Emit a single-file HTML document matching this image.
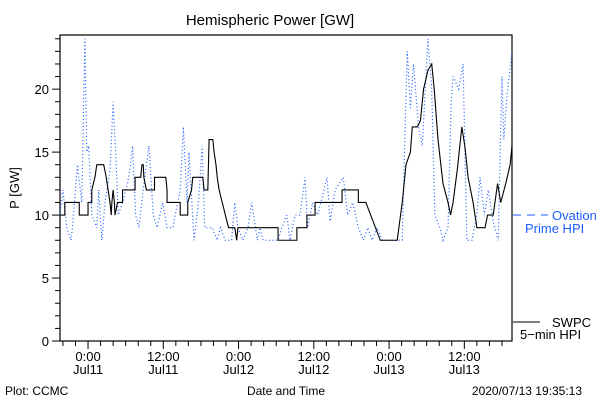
<!DOCTYPE html>
<html><head><meta charset="utf-8"><style>
body{margin:0;background:#fff;}
svg{display:block;font-family:"Liberation Sans",sans-serif;}
</style></head><body>
<svg id="chart" width="600" height="400">
<text x="270" y="25" font-size="15" text-anchor="middle">Hemispheric Power [GW]</text>
<text transform="translate(19,188) rotate(-90)" font-size="13" text-anchor="middle">P [GW]</text>
<text x="5" y="395" font-size="12">Plot: CCMC</text>
<text x="286" y="395" font-size="12" text-anchor="middle">Date and Time</text>
<text x="582" y="395" font-size="12" text-anchor="end">2020/07/13 19:35:13</text>
<g id="axes"></g>
<g id="series"></g>
<line x1="513" y1="215" x2="548" y2="215" stroke="#1f5fff" stroke-width="1" stroke-dasharray="8,6"/>
<text x="552" y="220" font-size="13" fill="#1f5fff">Ovation</text>
<text x="525" y="233" font-size="13" fill="#1f5fff">Prime HPI</text>
<line x1="513" y1="322" x2="540" y2="322" stroke="#000" stroke-width="1"/>
<text x="552" y="327" font-size="13">SWPC</text>
<text x="520" y="339" font-size="13">5−min HPI</text>
</svg>
<script>
const blackT=[-4.5,-3.7,-3.7,-1.4,-1.4,0,0,0.6,0.6,1.1,1.4,2.5,2.9,3.2,3.5,3.7,3.8,4.0,4.2,4.3,4.7,5.5,5.5,7.5,7.5,8.4,8.6,8.8,8.9,9.3,10.6,10.6,12.4,12.6,12.6,14.7,14.7,15.9,15.9,16.5,16.7,18.3,18.5,19.1,19.3,19.9,20.1,20.4,20.6,20.9,21.4,21.9,22.4,23.4,23.7,23.9,30.3,30.3,33.3,33.3,34.9,34.9,36.2,36.2,40.5,40.5,43.1,43.1,44.3,46.6,49.3,50.1,50.7,51.4,51.7,52.5,53.0,53.5,54.2,54.8,55.2,55.8,56.6,57.4,57.8,58.2,58.9,59.6,60.1,60.6,61.4,62.0,63.3,63.7,64.6,65.3,65.8,66.6,67.3,67.6];
const blackV=[10,10,11,11,10,10,11,11,12,13,14,14,13,12,11,10,11,12,11,10,11,11,12,12,13,13,14,14,13,12,12,13,13,12,11,11,10,10,11,12,13,13,12,12,16,16,15,14,13,12,11,10,9,9,8,9,9,8,8,9,9,10,10,11,11,12,12,11,11,8,8,11,14,15,17,17,17.5,20,21.5,22,20,16,12.5,11,10,11,13.7,17,15.4,13,11,9,9,10,10,12.5,11,12.5,14,15.5];
const blueT=[-4.5,-4.0,-3.4,-2.7,-2.5,-2.0,-1.7,-1.0,-0.5,-0.2,0.1,0.6,1.4,1.7,2.2,2.7,3.5,4.0,4.5,4.8,5.5,6.3,6.8,7.1,7.6,8.1,8.8,9.7,10.4,11.0,11.9,12.6,13.5,14.7,15.2,15.8,16.1,16.9,17.6,18.2,18.6,19.8,20.6,21.1,21.9,22.9,23.4,23.9,24.7,25.5,26.1,27.0,27.4,27.9,30.3,30.9,31.7,32.2,33.0,33.8,34.6,35,35.8,36.6,38.1,38.6,39.4,40.7,41.4,42.2,43.1,43.9,44.6,45.3,46.1,46.9,50.1,50.4,50.9,51.4,51.9,52.7,53.3,54.2,54.8,55.3,56.1,56.6,57.4,57.9,58.2,59.1,59.8,60.4,61.2,62.0,62.5,63.2,63.8,64.6,65.4,66.0,66.3,66.8,67.6];
const blueV=[10,12,9,8,9,12,14,11,24,15,15.5,10,9,12,8,11,13.5,19,14,10,11,12.5,14,15.5,10,9,12,15.5,10,9,11,9,9,12,17,11,15,8,11,15.5,9,9,8,9,8,8,11,9,8,9,11,8,9,8,8,9,10,8,10,10,13,9,11,10,13,9.5,12,13,10,11,9,8,9,8,9,8,8,14,23,18.5,22,17,15.5,24,20,10,9,8,9,19,21,20,22,8,8,10,13,10,12,9.5,8,21,16,19.5,23];
const xTickMajor=[0,12,24,36,48,60];
const xTickLabels=["0:00","12:00","0:00","12:00","0:00","12:00"];
const xDateLabels=["Jul11","Jul11","Jul12","Jul12","Jul13","Jul13"];
const yTicks=[0,5,10,15,20];

const X0=60,X1=512,Y0=341,Y1=35;
const hMin=-4.47,hMax=67.6,vMin=0,vMax=24.3;
function xs(h){return X0+(h-hMin)/(hMax-hMin)*(X1-X0);}
function ys(v){return Y0-(v-vMin)/(vMax-vMin)*(Y0-Y1);}
const NS="http://www.w3.org/2000/svg";
const axes=document.getElementById('axes'),series=document.getElementById('series');
function mk(tag,attrs,parent){const e=document.createElementNS(NS,tag);for(const k in attrs)e.setAttribute(k,attrs[k]);parent.appendChild(e);return e;}

const frame=mk('rect',{x:X0,y:Y1,width:X1-X0,height:Y0-Y1,fill:'none',stroke:'#000','stroke-width':1.2},axes);


for(let v=0;v<=24;v++){
  const major=v%5===0;
  const t=mk('line',{x1:X0-(major?8:5),x2:X0,y1:ys(v),y2:ys(v),stroke:'#000'},axes);
  
  
}
yTicks.forEach(v=>{
  const l=mk('text',{x:X0-11,y:ys(v)+5,'font-size':13,'text-anchor':'end'},axes);
  l.textContent=v;
  
  
});
for(let h=-4;h<=66;h+=2){
  const major=h%12===0;
  const t=mk('line',{x1:xs(h),x2:xs(h),y1:Y0,y2:Y0+(major?8:5),stroke:'#000'},axes);
  
  
}
xTickMajor.forEach((h,i)=>{
  const a=mk('text',{x:xs(h),y:Y0+20,'font-size':13,'text-anchor':'middle'},axes);
  a.textContent=xTickLabels[i];
  
  
  const b=mk('text',{x:xs(h),y:Y0+33,'font-size':13,'text-anchor':'middle'},axes);
  b.textContent=xDateLabels[i];
  
  
});
const bp=mk('polyline',{points:blueT.map((t,i)=>xs(t)+','+ys(blueV[i])).join(' '),fill:'none',stroke:'#1f5fff','stroke-width':1.2,'stroke-dasharray':'1,2.5'},series);


const kp=mk('polyline',{points:blackT.map((t,i)=>xs(t)+','+ys(blackV[i])).join(' '),fill:'none',stroke:'#000','stroke-width':1.1},series);


</script>
</body></html>
